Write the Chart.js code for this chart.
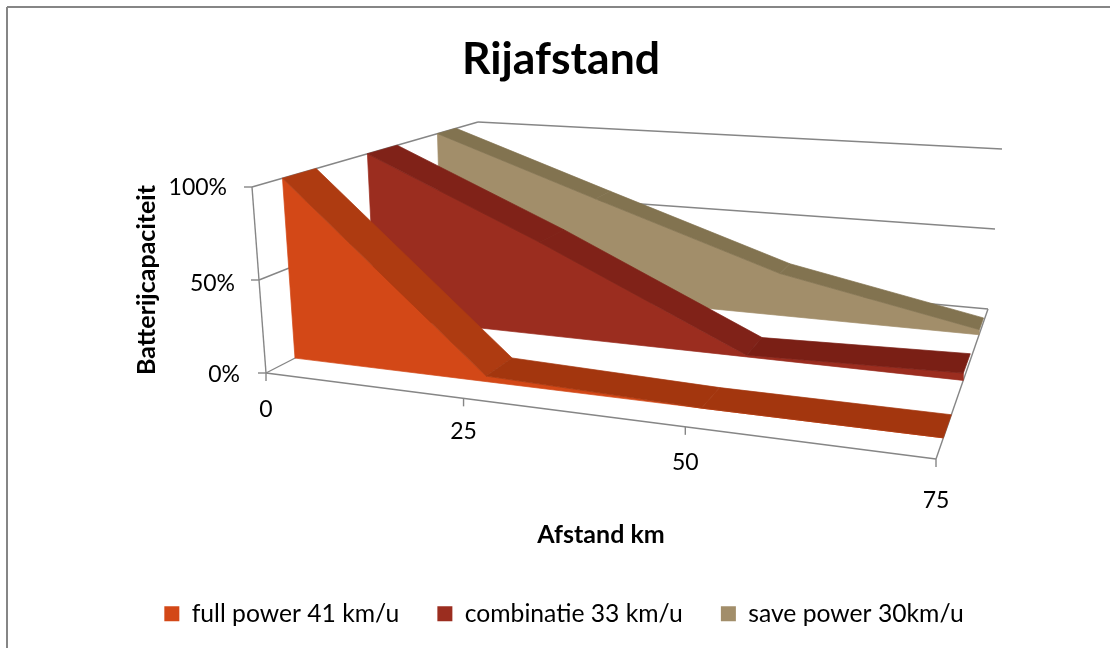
<!DOCTYPE html>
<html>
<head>
<meta charset="utf-8">
<title>Rijafstand</title>
<script src="https://cdn.jsdelivr.net/npm/chart.js@4"></script>
<style>
  html, body { margin: 0; padding: 0; background: #fff; }
  canvas { display: block; }
</style>
</head>
<body>
<canvas id="rangeChart" width="1110" height="648"></canvas>
<script>
const distances = [0, 25, 50, 75];
const fullPower = [100, 3, 0, 0];
const combination = [100, 55, 1, 4];
const savePower = [100, 64, 26, 3];
const seriesNames = ['full power 41 km/u', 'combinatie 33 km/u', 'save power 30km/u'];
const capacityTicks = [0, 50, 100];

const faceColors = ['#D34817', '#9B2D1F', '#A28E6A'];
const slopeColors = ['#AE3B11', '#802218', '#827350'];
const flatColors = ['#A3360E', '#7A1F15', '#827350'];
const depthBands = [[0.105, 0.23], [0.44, 0.575], [0.775, 0.875]];

// corners of the 3D box on screen, the chart is a 3D line chart so everything goes through this
const floorQuad = [[266, 373], [936, 459], [988, 309], [480, 263]];
const topQuad = [[252, 187], [925, 254], [1002, 149], [478, 122]];

function quadMap(q) {
  const [p0, p1, p2, p3] = q;
  const dx1 = p1[0] - p2[0], dx2 = p3[0] - p2[0], sx = p0[0] - p1[0] + p2[0] - p3[0];
  const dy1 = p1[1] - p2[1], dy2 = p3[1] - p2[1], sy = p0[1] - p1[1] + p2[1] - p3[1];
  const den = dx1 * dy2 - dx2 * dy1;
  const g = (sx * dy2 - dx2 * sy) / den;
  const h = (dx1 * sy - sx * dy1) / den;
  const a = p1[0] - p0[0] + g * p1[0], b = p3[0] - p0[0] + h * p3[0];
  const d = p1[1] - p0[1] + g * p1[1], e = p3[1] - p0[1] + h * p3[1];
  return (u, v) => {
    const w = g * u + h * v + 1;
    return [(a * u + b * v + p0[0]) / w, (d * u + e * v + p0[1]) / w];
  };
}
const floorAt = quadMap(floorQuad);
const topAt = quadMap(topQuad);

// data value -> screen, using the chart scales for the normalised position
function project(chart, dist, cap, depth) {
  const xs = chart.scales.x, ys = chart.scales.y;
  const u = (xs.getPixelForValue(dist) - xs.left) / xs.width;
  const t = (ys.bottom - ys.getPixelForValue(cap)) / ys.height;
  const f = floorAt(u, depth), c = topAt(u, depth);
  return [f[0] + (c[0] - f[0]) * t, f[1] + (c[1] - f[1]) * t];
}

function poly(ctx, pts, color) {
  ctx.beginPath();
  pts.forEach((p, i) => i ? ctx.lineTo(p[0], p[1]) : ctx.moveTo(p[0], p[1]));
  ctx.closePath();
  ctx.fillStyle = color;
  ctx.strokeStyle = color;
  ctx.lineWidth = 0.7;
  ctx.fill();
  ctx.stroke();
}

function line(ctx, a, b) {
  ctx.beginPath();
  ctx.moveTo(a[0], a[1]);
  ctx.lineTo(b[0], b[1]);
  ctx.stroke();
}

const box3d = {
  id: 'box3d',
  afterLayout(chart) {
    chart.legend.left += 3;
    chart.legend.right += 3;
    chart.legend.top -= 12;
    chart.legend.bottom -= 12;
  },
  beforeDraw(chart) {
    const ctx = chart.ctx;
    ctx.save();
    ctx.fillStyle = '#fff';
    ctx.fillRect(0, 0, chart.width, chart.height);
    ctx.strokeStyle = '#868686';
    ctx.lineWidth = 2;
    line(ctx, [7, 7], [1110, 7]);
    line(ctx, [7, 7], [7, 648]);
    ctx.restore();
  },
  beforeDatasetsDraw(chart) {
    const ctx = chart.ctx;
    const P = (d, c, z) => project(chart, d, c, z);
    const xMax = distances[distances.length - 1];
    ctx.save();

    // walls and floor
    ctx.strokeStyle = '#868686';
    ctx.lineWidth = 1.4;
    capacityTicks.forEach(c => {
      line(ctx, P(0, c, 0), P(0, c, 1));
      line(ctx, P(0, c, 1), P(xMax, c, 1));
      const a = P(0, c, 0);
      line(ctx, [a[0] - 8, a[1]], a);
    });
    line(ctx, P(0, 0, 0), P(0, 100, 0));
    line(ctx, P(0, 0, 0), P(xMax, 0, 0));
    line(ctx, P(xMax, 0, 0), P(xMax, 0, 1));
    distances.forEach(d => {
      const a = P(d, 0, 0);
      line(ctx, a, [a[0], a[1] + 8]);
    });

    // series back to front
    for (let s = chart.data.datasets.length - 1; s >= 0; s--) {
      const vals = chart.data.datasets[s].data;
      const [z0, z1] = depthBands[s];
      const top = vals.map(p => P(p.x, p.y, z0));
      const base = vals.map(p => P(p.x, 0, z0)).reverse();
      poly(ctx, top.concat(base), faceColors[s]);
      for (let i = 0; i < vals.length - 1; i++) {
        const a = vals[i], b = vals[i + 1];
        const color = a.y - b.y > 5 ? slopeColors[s] : flatColors[s];
        poly(ctx, [P(a.x, a.y, z0), P(b.x, b.y, z0), P(b.x, b.y, z1), P(a.x, a.y, z1)], color);
      }
    }

    // tick labels and axis titles
    ctx.fillStyle = '#000';
    ctx.font = '23px Lato';
    ctx.textBaseline = 'middle';
    ctx.textAlign = 'right';
    capacityTicks.forEach((c, i) => {
      const a = P(0, c, 0);
      ctx.fillText(c + '%', a[0] - [26, 24, 25][i], a[1] + [2, 4, 1][i]);
    });
    ctx.textAlign = 'center';
    distances.forEach((d, i) => {
      const a = P(d, 0, 0);
      ctx.fillText(String(d), a[0], a[1] + [37, 33, 36, 42][i]);
    });
    ctx.font = 'bold 25px Lato';
    ctx.fillText('Afstand km', 601, 535);
    ctx.translate(147, 280);
    ctx.rotate(-Math.PI / 2);
    ctx.fillText('Batterijcapaciteit', 0, 0);
    ctx.restore();
  }
};

new Chart(document.getElementById('rangeChart'), {
  type: 'line',
  data: {
    datasets: [fullPower, combination, savePower].map((vals, i) => ({
      label: seriesNames[i],
      data: vals.map((v, k) => ({ x: distances[k], y: v })),
      backgroundColor: faceColors[i],
      borderColor: faceColors[i],
      borderWidth: 0,
      showLine: false,
      pointRadius: 0
    }))
  },
  options: {
    responsive: false,
    animation: false,
    layout: { padding: { left: 12 } },
    scales: {
      x: { type: 'linear', min: 0, max: 75, display: false },
      y: { type: 'linear', min: 0, max: 100, display: false }
    },
    plugins: {
      title: {
        display: true,
        text: 'Rijafstand',
        color: '#000',
        font: { family: 'Lato', size: 44.5, weight: 'bold' },
        padding: { top: 33, bottom: 10 }
      },
      legend: {
        position: 'bottom',
        labels: {
          color: '#000',
          font: { family: 'Lato', size: 24.7 },
          boxWidth: 15,
          boxHeight: 15,
          padding: 38
        }
      },
      tooltip: { enabled: false }
    }
  },
  plugins: [box3d]
});
</script>
</body>
</html>
